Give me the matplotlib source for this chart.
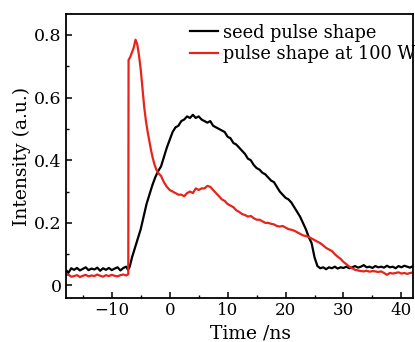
import matplotlib
matplotlib.use("Agg")
import matplotlib.pyplot as plt
from matplotlib.ticker import MultipleLocator

# ---- data ----
seed_t = [-18, -17.5, -17, -16.5, -16, -15.5, -15, -14.5, -14, -13.5, -13, -12.5, -12,
          -11.5, -11, -10.5, -10, -9.5, -9, -8.5, -8, -7.5, -7.2,
          -6.9, -6.5, -6, -5.5, -5, -4.5, -4, -3.5, -3, -2.5, -2, -1.5, -1, -0.5,
          0, 0.5, 1, 1.5, 2, 2.5, 3, 3.5, 4, 4.5, 5, 5.5, 6, 6.5, 7, 7.5, 8, 8.5,
          9, 9.5, 10, 10.5, 11, 11.5, 12, 12.5, 13, 13.5, 14, 14.5, 15, 15.5, 16,
          16.5, 17, 17.5, 18, 18.5, 19, 19.5, 20, 20.5, 21, 21.5, 22, 22.5, 23,
          23.5, 24, 24.5, 25, 25.5, 26, 26.5, 27, 27.5, 28, 28.5, 29, 29.5, 30,
          30.5, 31, 31.5, 32, 32.5, 33, 33.5, 34, 34.5, 35, 35.5, 36, 36.5, 37,
          37.5, 38, 38.5, 39, 39.5, 40, 40.5, 41, 41.5, 42, 42.5, 43]
seed_v = [0.052, 0.040, 0.055, 0.050, 0.056, 0.048, 0.053, 0.058, 0.049, 0.054, 0.051,
          0.057, 0.047, 0.055, 0.050, 0.056, 0.049, 0.054, 0.058, 0.048, 0.056, 0.060,
          0.050,
          0.060, 0.090, 0.120, 0.150, 0.180, 0.220, 0.260, 0.290, 0.320, 0.345, 0.365,
          0.380, 0.410, 0.440, 0.465, 0.490, 0.505, 0.510, 0.525, 0.530, 0.540, 0.535,
          0.545, 0.535, 0.540, 0.530, 0.525, 0.520, 0.525, 0.510, 0.505, 0.500, 0.495,
          0.490, 0.475, 0.470, 0.455, 0.450, 0.440, 0.430, 0.420, 0.405, 0.400, 0.385,
          0.375, 0.370, 0.360, 0.355, 0.345, 0.335, 0.330, 0.315, 0.300, 0.290, 0.280,
          0.275, 0.265, 0.250, 0.235, 0.220, 0.200, 0.180, 0.155, 0.135, 0.090, 0.062,
          0.055, 0.058, 0.052, 0.058, 0.055, 0.060, 0.054, 0.058, 0.056, 0.060, 0.055,
          0.058, 0.062, 0.057, 0.060, 0.065, 0.058, 0.060, 0.056, 0.062, 0.058, 0.060,
          0.057, 0.063, 0.058, 0.060, 0.055, 0.062, 0.058, 0.063, 0.060, 0.057, 0.062,
          0.060, 0.058]

amp_t = [-18, -17.5, -17, -16.5, -16, -15.5, -15, -14.5, -14, -13.5, -13, -12.5, -12,
         -11.5, -11, -10.5, -10, -9.5, -9, -8.5, -8, -7.5, -7.15,
         -7.1, -6.8, -6.5, -6.2, -5.9, -5.6, -5.3, -5, -4.7, -4.4, -4.1, -3.8, -3.5,
         -3.2, -2.9, -2.6, -2.3, -2, -1.5, -1, -0.5,
         0, 0.5, 1, 1.5, 2, 2.5, 3, 3.5, 4, 4.5, 5, 5.5, 6, 6.5, 7, 7.5, 8, 8.5,
         9, 9.5, 10, 10.5, 11, 11.5, 12, 12.5, 13, 13.5, 14, 14.5, 15, 15.5, 16,
         16.5, 17, 17.5, 18, 18.5, 19, 19.5, 20, 20.5, 21, 21.5, 22, 22.5, 23,
         23.5, 24, 24.5, 25, 25.5, 26, 26.5, 27, 27.5, 28, 28.5, 29, 29.5, 30,
         30.5, 31, 31.5, 32, 32.5, 33, 33.5, 34, 34.5, 35, 35.5, 36, 36.5, 37,
         37.5, 38, 38.5, 39, 39.5, 40, 40.5, 41, 41.5, 42, 42.5, 43]
amp_v = [0.032, 0.035, 0.028, 0.030, 0.033, 0.027, 0.031, 0.034, 0.029, 0.032, 0.030,
         0.035, 0.031, 0.028, 0.033, 0.030, 0.034, 0.031, 0.029, 0.033, 0.035, 0.032,
         0.036,
         0.720, 0.730, 0.745, 0.760, 0.785, 0.770, 0.735, 0.690, 0.630, 0.570, 0.525,
         0.490, 0.460, 0.430, 0.405, 0.385, 0.370, 0.360, 0.350, 0.330, 0.315,
         0.305, 0.300, 0.295, 0.290, 0.290, 0.285, 0.295, 0.300, 0.295, 0.310, 0.305,
         0.310, 0.310, 0.318, 0.315, 0.305, 0.295, 0.285, 0.275, 0.270, 0.260, 0.255,
         0.250, 0.240, 0.235, 0.228, 0.225, 0.220, 0.222, 0.215, 0.210, 0.210, 0.205,
         0.200, 0.200, 0.197, 0.195, 0.190, 0.188, 0.190, 0.185, 0.180, 0.178, 0.175,
         0.170, 0.165, 0.160, 0.158, 0.155, 0.150, 0.145, 0.140, 0.135, 0.128, 0.120,
         0.115, 0.110, 0.100, 0.092, 0.085, 0.075, 0.068, 0.060, 0.055, 0.050, 0.048,
         0.046, 0.045, 0.047, 0.044, 0.046, 0.045, 0.043, 0.045, 0.040, 0.034, 0.040,
         0.038, 0.040, 0.042, 0.038, 0.040, 0.037, 0.040, 0.041, 0.038, 0.040]

series_labels = ["seed pulse shape", "pulse shape at 100 W"]
x_label = "Time /ns"
y_label = "Intensity (a.u.)"

# ---- figure ----
plt.rcParams["font.family"] = ["DejaVu Serif"]
W, H = 415, 342
fig = plt.figure(figsize=(W / 100, H / 100), dpi=100)
ax = fig.add_axes([66 / W, 1 - 298 / H, (413 - 66) / W, (298 - 14) / H])

ax.plot(seed_t, seed_v, color="black", lw=1.6, label=series_labels[0])
ax.plot(amp_t, amp_v, color="#e8231c", lw=1.6, label=series_labels[1])

ax.set_xlim(-17.9, 42.0)
ax.set_ylim(-0.04, 0.867)
ax.xaxis.set_major_locator(MultipleLocator(10))
ax.xaxis.set_minor_locator(MultipleLocator(5))
ax.yaxis.set_major_locator(MultipleLocator(0.2))
ax.yaxis.set_minor_locator(MultipleLocator(0.1))
ax.yaxis.set_major_formatter(plt.FuncFormatter(lambda v, p: "0" if abs(v) < 1e-9 else f"{v:.1f}"))
ax.xaxis.set_major_formatter(plt.FuncFormatter(lambda v, p: f"\u2212{abs(v):.0f}" if v < 0 else f"{v:.0f}"))

ax.tick_params(which="both", direction="in", top=False, right=False, labelsize=12.5, pad=3)
ax.tick_params(axis="x", labelsize=12)
ax.tick_params(which="major", length=4, width=1.1)
ax.tick_params(which="minor", length=2.5, width=1.0)
for s in ax.spines.values():
    s.set_linewidth(1.3)

ax.set_xlabel(x_label, fontsize=13.5)
ax.xaxis.set_label_coords(0.533, -0.095)
ax.set_ylabel(y_label, fontsize=13.5, labelpad=2)

ax.legend(loc="upper left", bbox_to_anchor=(0.357, 0.966), frameon=False, fontsize=12.8,
          handlelength=1.6, handletextpad=0.25, labelspacing=0.2, borderaxespad=0,
          borderpad=0)

fig.savefig("out.png", dpi=100)
